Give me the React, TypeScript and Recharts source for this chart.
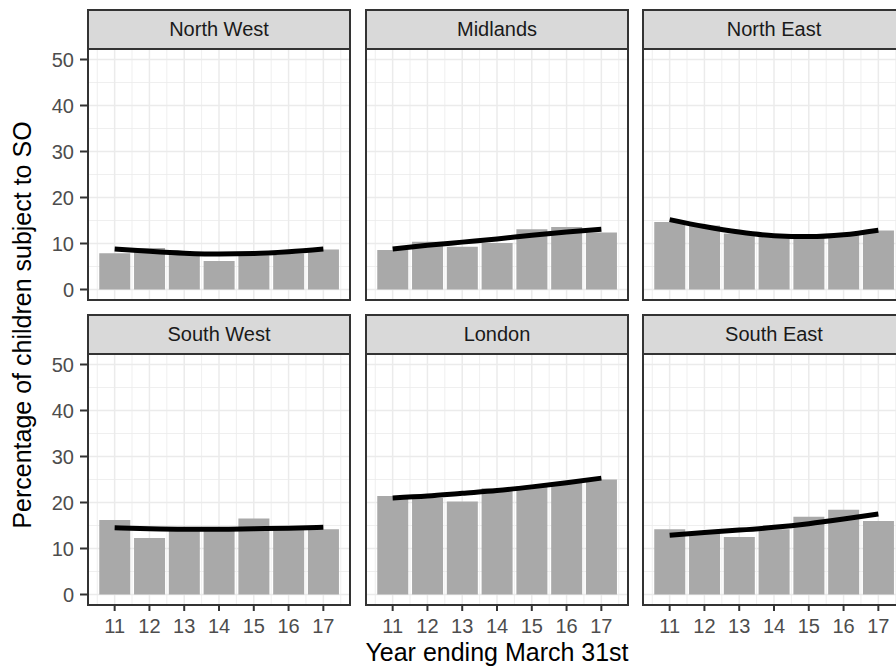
import React from 'react';
import { ComposedChart, Bar, Line, XAxis, YAxis, CartesianGrid } from 'recharts';

// years ending March 31st (20xx)
const years = [11, 12, 13, 14, 15, 16, 17];
const yTicks = [0, 10, 20, 30, 40, 50];
const yMinor = [5, 15, 25, 35, 45];
const xMinor = [10.5, 11.5, 12.5, 13.5, 14.5, 15.5, 16.5, 17.5];

const regions = ['North West', 'Midlands', 'North East', 'South West', 'London', 'South East'];

// % of children subject to SO, per year
const northWestPct = [7.9, 9.0, 7.6, 6.2, 7.4, 7.8, 8.7];
const midlandsPct = [8.6, 10.4, 9.3, 10.1, 13.1, 13.6, 12.4];
const northEastPct = [14.7, 13.9, 12.2, 11.5, 11.5, 11.8, 12.8];
const southWestPct = [16.2, 12.3, 14.0, 14.0, 16.5, 14.3, 14.2];
const londonPct = [21.4, 21.0, 20.2, 23.1, 23.6, 24.3, 25.0];
const southEastPct = [14.2, 13.5, 12.5, 14.2, 16.9, 18.4, 16.0];

// fitted trend line, read at each year
const northWestTrend = [8.8, 8.3, 7.9, 7.7, 7.8, 8.2, 8.8];
const midlandsTrend = [8.8, 9.6, 10.3, 11.0, 11.8, 12.5, 13.1];
const northEastTrend = [15.2, 13.7, 12.5, 11.7, 11.5, 11.9, 12.9];
const southWestTrend = [14.5, 14.3, 14.2, 14.2, 14.3, 14.4, 14.6];
const londonTrend = [21.0, 21.4, 22.0, 22.6, 23.4, 24.3, 25.3];
const southEastTrend = [12.9, 13.5, 14.0, 14.6, 15.4, 16.4, 17.5];

const pctByRegion = [northWestPct, midlandsPct, northEastPct, southWestPct, londonPct, southEastPct];
const trendByRegion = [northWestTrend, midlandsTrend, northEastTrend, southWestTrend, londonTrend, southEastTrend];

const COL_X = [87, 365, 642];
const ROW_Y = [48, 353];
const PANEL_W = 264;
const PANEL_H = 253;
const STRIP_H = 39;
const Y_AXIS_W = 45;
const X_AXIS_H = 40;

const FONT = '"Liberation Sans", Arial, Helvetica, sans-serif';

function Panel({ idx }: { idx: number }) {
  const col = idx % 3;
  const row = Math.floor(idx / 3);
  const showY = col === 0;
  const showX = row === 1;
  const data = years.map((y, i) => ({ year: y, pct: pctByRegion[idx][i], trend: trendByRegion[idx][i] }));
  const w = PANEL_W + (showY ? Y_AXIS_W : 0);
  const h = PANEL_H + (showX ? X_AXIS_H : 0);

  return (
    <>
      <div
        style={{
          position: 'absolute',
          left: COL_X[col],
          top: ROW_Y[row] - STRIP_H,
          width: PANEL_W,
          height: STRIP_H + 2,
          background: '#D9D9D9',
          border: '2px solid #333333',
          boxSizing: 'border-box',
          color: '#1A1A1A',
          fontSize: 20,
          lineHeight: `${STRIP_H - 3}px`,
          textAlign: 'center',
        }}
      >
        {regions[idx]}
      </div>
      <div style={{ position: 'absolute', left: COL_X[col] - (showY ? Y_AXIS_W : 0), top: ROW_Y[row] }}>
        <ComposedChart width={w} height={h} data={data} margin={{ top: 0, right: 0, bottom: 0, left: 0 }}>
          <CartesianGrid stroke="#EBEBEB" strokeWidth={0.8} horizontalValues={yMinor} verticalValues={xMinor} />
          <CartesianGrid stroke="#EBEBEB" strokeWidth={1.5} horizontalValues={yTicks} verticalValues={years} />
          <XAxis
            dataKey="year"
            type="number"
            domain={[10.205, 17.795]}
            ticks={years}
            interval={0}
            allowDataOverflow
            hide={!showX}
            height={X_AXIS_H}
            axisLine={false}
            tickLine={{ stroke: '#333333', strokeWidth: 2 }}
            tickSize={5}
            tickMargin={8}
            tick={{ fill: '#4D4D4D', fontSize: 20 }}
          />
          <YAxis
            type="number"
            domain={[-2.5, 52.5]}
            ticks={yTicks}
            interval={0}
            allowDataOverflow
            hide={!showY}
            width={Y_AXIS_W}
            axisLine={false}
            tickLine={{ stroke: '#333333', strokeWidth: 2 }}
            tickSize={7}
            tickMargin={6}
            tick={{ fill: '#4D4D4D', fontSize: 20 }}
          />
          <Bar dataKey="pct" fill="#A9A9A9" barSize={31} isAnimationActive={false} />
          <Line dataKey="trend" type="monotone" stroke="#000000" strokeWidth={5} dot={false} isAnimationActive={false} />
        </ComposedChart>
      </div>
      <div
        style={{
          position: 'absolute',
          left: COL_X[col],
          top: ROW_Y[row],
          width: PANEL_W,
          height: PANEL_H,
          border: '2px solid #333333',
          boxSizing: 'border-box',
          pointerEvents: 'none',
        }}
      />
    </>
  );
}

export default function App() {
  return (
    <div
      style={{
        position: 'absolute',
        left: 0,
        top: 0,
        width: 896,
        height: 669,
        overflow: 'hidden',
        background: '#FFFFFF',
        fontFamily: FONT,
      }}
    >
      {regions.map((r, i) => (
        <Panel key={r} idx={i} />
      ))}
      <div
        style={{
          position: 'absolute',
          left: 22 - 300,
          top: 325 - 15,
          width: 600,
          height: 30,
          lineHeight: '30px',
          textAlign: 'center',
          fontSize: 25,
          color: '#000000',
          transform: 'rotate(-90deg)',
        }}
      >
        Percentage of children subject to SO
      </div>
      <div
        style={{
          position: 'absolute',
          left: 497 - 300,
          top: 652 - 15,
          width: 600,
          height: 30,
          lineHeight: '30px',
          textAlign: 'center',
          fontSize: 25,
          color: '#000000',
        }}
      >
        Year ending March 31st
      </div>
    </div>
  );
}
